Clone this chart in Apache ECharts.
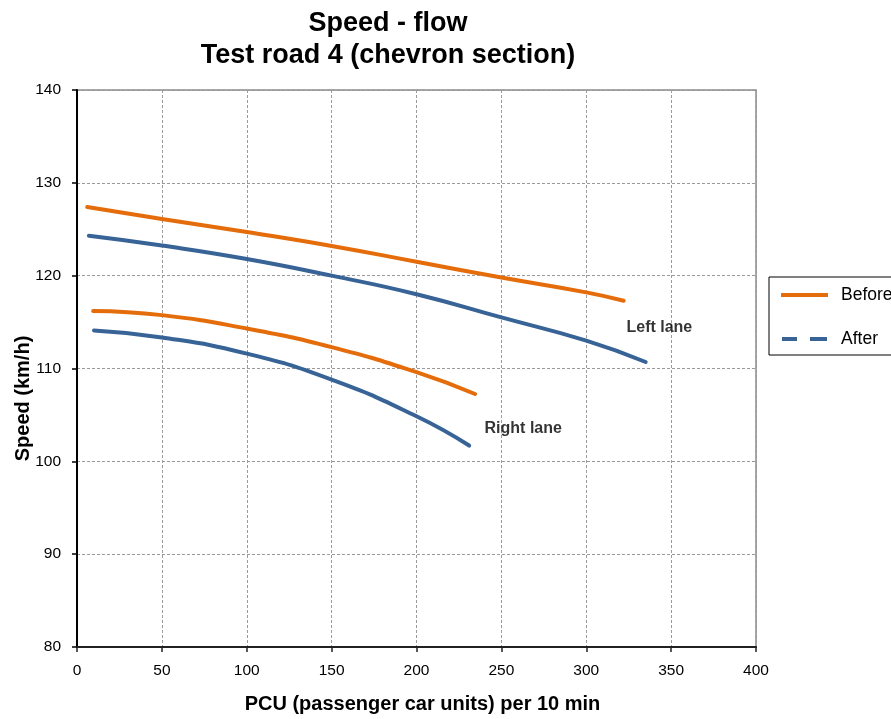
<!DOCTYPE html>
<html>
<head>
<meta charset="utf-8">
<script src="https://cdn.jsdelivr.net/npm/echarts@6/dist/echarts.min.js"></script>
<style>html,body{margin:0;padding:0;background:#fff}#c{width:891px;height:719px}</style>
</head>
<body>
<div id="c"></div>
<script>
// ---- data ----
var titleLines = ['Speed - flow', 'Test road 4 (chevron section)'];
var xTitle = 'PCU (passenger car units) per 10 min';
var yTitle = 'Speed (km/h)';
var seriesNames = ['Before', 'After'];

var pcuBeforeLeft   = [6, 50, 100, 150, 200, 250, 300, 322];
var speedBeforeLeft = [127.4, 126.1, 124.7, 123.2, 121.5, 119.8, 118.2, 117.3];

var pcuAfterLeft    = [7, 50, 100, 150, 200, 250, 300, 335];
var speedAfterLeft  = [124.3, 123.25, 121.8, 120.0, 118.0, 115.5, 113.0, 110.7];

var pcuBeforeRight   = [9.5, 50, 100, 150, 200, 234.5];
var speedBeforeRight = [116.2, 115.75, 114.3, 112.3, 109.6, 107.25];

var pcuAfterRight    = [10, 50, 100, 150, 200, 231];
var speedAfterRight  = [114.1, 113.35, 111.6, 108.8, 104.85, 101.7];

var laneLabels  = ['Left lane', 'Right lane'];
var laneLabelX  = [323.4, 239.8];
var laneLabelY  = [114.45, 103.5];

// ---- build ----
function pairs(xs, ys) { return xs.map(function (x, i) { return [x, ys[i]]; }); }
var FONT = '"Liberation Sans", Arial, sans-serif';
var ORANGE = '#E46C0A';
var BLUE = '#386396';

function lineSeries(name, color, xs, ys) {
  return {
    name: name, type: 'line', data: pairs(xs, ys),
    smooth: 0.5, symbol: 'none', silent: true,
    lineStyle: { color: color, width: 4, cap: 'round' },
    itemStyle: { color: color }
  };
}

var chart = echarts.init(document.getElementById('c'));
chart.setOption({
  animation: false,
  backgroundColor: '#fff',
  title: {
    text: titleLines.join('\n'),
    left: 388, top: 8, padding: 0,
    textAlign: 'center',
    textStyle: { fontFamily: FONT, fontSize: 27, fontWeight: 'bold', color: '#000', lineHeight: 32 }
  },
  legend: {
    orient: 'vertical', left: 769, top: 277,
    padding: [9, 40, 7, 12],
    itemWidth: 47, itemHeight: 4, itemGap: 26,
    borderColor: '#000', borderWidth: 1,
    textStyle: { fontFamily: FONT, fontSize: 17.5, color: '#000', padding: [0, 0, 0, 8] },
    data: [
      { name: seriesNames[0], icon: 'path://M0,0h47v4h-47z', itemStyle: { color: ORANGE } },
      { name: seriesNames[1], icon: 'path://M0,0h15v4h-15zM28,0h17v4h-17z', itemStyle: { color: BLUE } }
    ]
  },
  grid: { left: 77, right: 135, top: 90, bottom: 70, show: true, borderColor: '#8a8a8a', borderWidth: 1.5 },
  xAxis: {
    type: 'value', min: 0, max: 400, interval: 50,
    name: xTitle, nameLocation: 'middle', nameGap: 47,
    nameTextStyle: { fontFamily: FONT, fontSize: 20, fontWeight: 'bold', color: '#000', padding: [0, 0, 0, 12] },
    axisLine: { show: true, onZero: false, lineStyle: { color: '#222', width: 2 } },
    axisTick: { show: true, length: 5, lineStyle: { color: '#222', width: 1.5 } },
    axisLabel: { fontFamily: FONT, fontSize: 15.5, color: '#000', margin: 16 },
    splitLine: { show: true, lineStyle: { color: '#9a9a9a', width: 1, type: [3, 2] } }
  },
  yAxis: {
    type: 'value', min: 80, max: 140, interval: 10,
    axisLine: { show: true, onZero: false, lineStyle: { color: '#000', width: 2 } },
    axisTick: { show: true, length: 5, lineStyle: { color: '#000', width: 1.5 } },
    axisLabel: { fontFamily: FONT, fontSize: 15.5, color: '#000', margin: 16 },
    splitLine: { show: true, lineStyle: { color: '#9a9a9a', width: 1, type: [3, 2] } }
  },
  graphic: [{
    type: 'text', x: 23, y: 398.5, rotation: Math.PI / 2,
    style: { text: yTitle, font: 'bold 20px ' + FONT, fill: '#000', textAlign: 'center', textVerticalAlign: 'middle' }
  }],
  series: [
    lineSeries(seriesNames[0], ORANGE, pcuBeforeLeft, speedBeforeLeft),
    lineSeries(seriesNames[1], BLUE, pcuAfterLeft, speedAfterLeft),
    lineSeries(seriesNames[0], ORANGE, pcuBeforeRight, speedBeforeRight),
    lineSeries(seriesNames[1], BLUE, pcuAfterRight, speedAfterRight),
    {
      name: 'labels', type: 'scatter', silent: true, symbolSize: 1,
      itemStyle: { color: 'rgba(0,0,0,0)' },
      data: laneLabels.map(function (t, i) { return { value: [laneLabelX[i], laneLabelY[i]], name: t }; }),
      label: { show: true, position: 'right', distance: 0, formatter: '{b}',
               fontFamily: FONT, fontSize: 16, fontWeight: 'bold', color: '#000' }
    }
  ]
});
</script>
</body>
</html>
